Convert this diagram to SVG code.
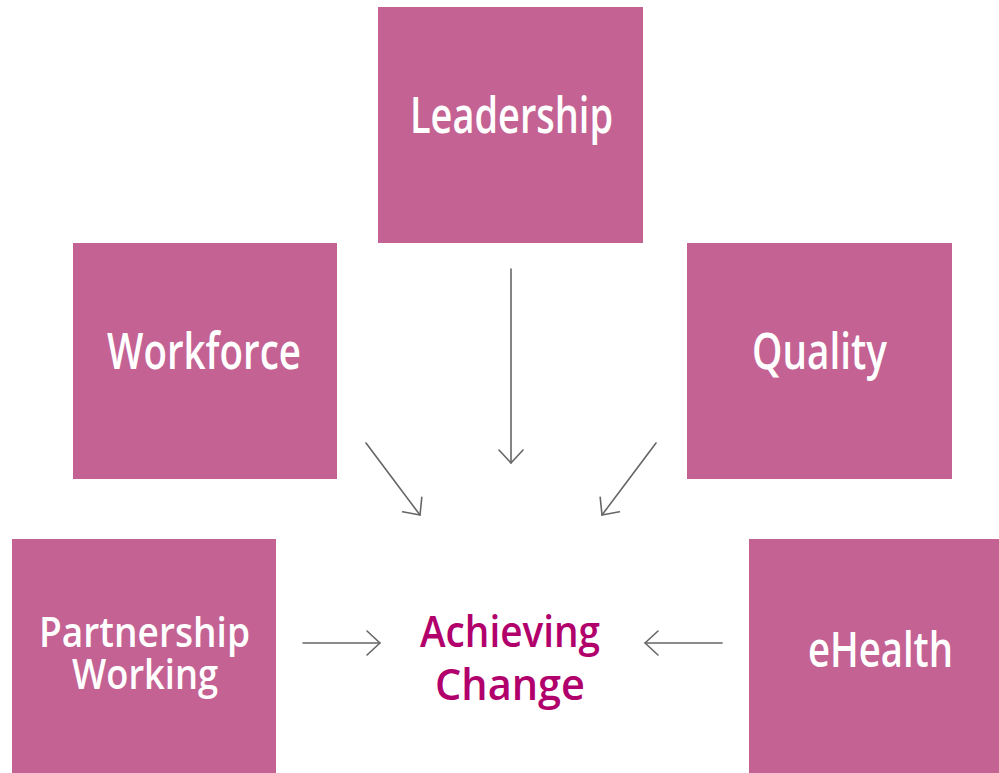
<svg xmlns="http://www.w3.org/2000/svg" width="999" height="773" viewBox="0 0 999 773">
<style>
.box{fill:#c46294}
.lbl{font-family:"Open Sans","Liberation Sans",sans-serif;font-weight:600;fill:#ffffff;text-anchor:middle}
.ctr{font-family:"Open Sans","Liberation Sans",sans-serif;font-weight:600;fill:#b1006b;text-anchor:middle}
.arr{fill:none;stroke:#666666;stroke-width:1.6;stroke-linecap:round;stroke-linejoin:round}
</style>
<defs>
<marker id="head" markerUnits="userSpaceOnUse" markerWidth="30" markerHeight="30" viewBox="-16 -15 18 30" refX="0" refY="0" orient="auto">
<path d="M-13,-12 L0,0 L-13,12" fill="none" stroke="#666666" stroke-width="1.6" stroke-linecap="round" stroke-linejoin="round"/>
</marker>
</defs>
<rect width="999" height="773" fill="#ffffff"/>
<g id="leadership">
<rect class="box" x="378" y="7" width="265" height="236"/>
<text class="lbl" x="511.5" y="133" font-size="51" textLength="203" lengthAdjust="spacingAndGlyphs">Leadership</text>
</g>
<g id="workforce">
<rect class="box" x="73" y="243" width="264" height="236"/>
<text class="lbl" x="204" y="369" font-size="51" textLength="194" lengthAdjust="spacingAndGlyphs">Workforce</text>
</g>
<g id="quality">
<rect class="box" x="687" y="243" width="265" height="236"/>
<text class="lbl" x="819.5" y="369" font-size="51" textLength="135" lengthAdjust="spacingAndGlyphs">Quality</text>
</g>
<g id="partnership">
<rect class="box" x="12" y="539" width="264" height="234"/>
<text class="lbl" x="144.5" y="647" font-size="41" textLength="211" lengthAdjust="spacingAndGlyphs">Partnership</text>
<text class="lbl" x="145" y="689" font-size="41" textLength="146" lengthAdjust="spacingAndGlyphs">Working</text>
</g>
<g id="ehealth">
<rect class="box" x="749" y="539" width="250" height="234"/>
<text class="lbl" x="880.5" y="667" font-size="49" textLength="145" lengthAdjust="spacingAndGlyphs">eHealth</text>
</g>
<g id="achieving-change">
<text class="ctr" x="510" y="647" font-size="43" textLength="180" lengthAdjust="spacingAndGlyphs">Achieving</text>
<text class="ctr" x="510" y="700" font-size="43" textLength="150" lengthAdjust="spacingAndGlyphs">Change</text>
</g>
<g id="connectors">
<line class="arr" x1="511" y1="269" x2="511" y2="463" marker-end="url(#head)"/>
<line class="arr" x1="366" y1="443" x2="420" y2="515" marker-end="url(#head)"/>
<line class="arr" x1="656" y1="443" x2="602" y2="515" marker-end="url(#head)"/>
<line class="arr" x1="303" y1="643" x2="380" y2="643" marker-end="url(#head)"/>
<line class="arr" x1="722" y1="643" x2="645" y2="643" marker-end="url(#head)"/>
</g>
</svg>
